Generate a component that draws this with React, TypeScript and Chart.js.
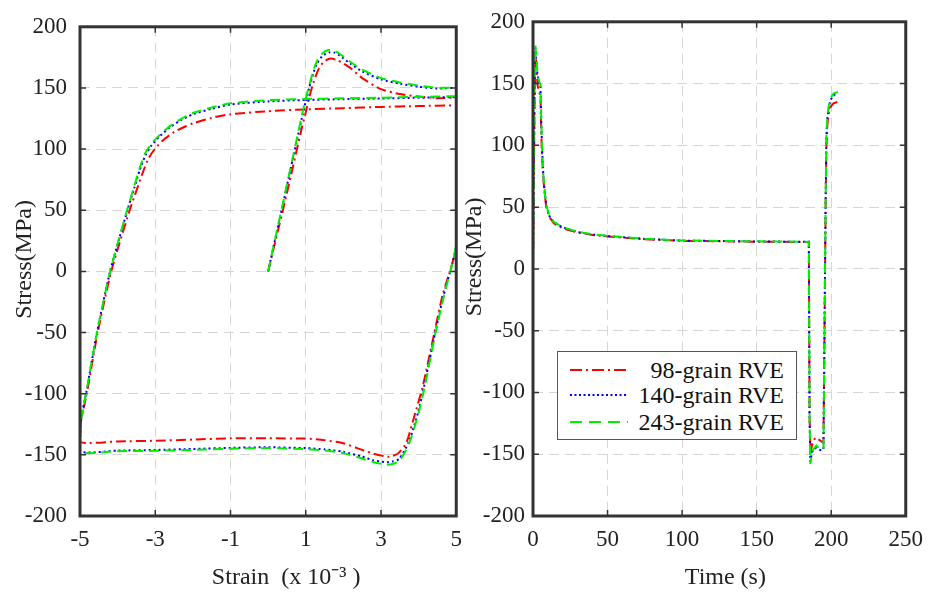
import React, { useEffect, useRef } from "react";
import { Chart, registerables } from "chart.js";

Chart.register(...registerables);

// ---------- data ----------
const seriesNames = ["98-grain RVE", "140-grain RVE", "243-grain RVE"];
const seriesColors = ["#ff0000", "#0000ff", "#00ee00"];

const stressTicks = [-200, -150, -100, -50, 0, 50, 100, 150, 200];
const strainTicks = [-5, -3, -1, 1, 3, 5];
const timeTicks = [0, 50, 100, 150, 200, 250];

// left panel: stress vs strain (x 10^-3)
const strain98 = [0, 0.5, 0.9, 1.0, 1.1, 1.2, 1.35, 1.5, 1.67, 1.85, 2.0, 2.2, 2.5, 3.0, 3.5, 4.0, 4.5, 5.0, 5.0, 4.9, 4.64, 4.42, 4.11, 3.89, 3.67, 3.45, 3.3, 3.18, 2.8, 2.5, 2.0, 1.5, 1.0, 0, -1, -2, -3, -4, -5, -4.97, -4.82, -4.53, -4.17, -3.68, -3.5, -3.33, -3.17, -3.0, -2.8, -2.5, -2.2, -2.0, -1.5, -1.0, 0, 1, 2, 3, 4, 5];
const stress98 = [0, 64, 118, 130, 143, 154, 166, 172, 174, 172.5, 170, 166, 158, 149, 145, 143, 141.5, 140.5, 22, 7, -19, -50, -94, -118, -140.5, -149, -151, -151.6, -149, -146, -140.5, -138, -136.7, -136.5, -136.5, -137.5, -138.5, -139, -139.5, -122, -100, -50, 0, 50, 66, 81, 93, 100.5, 107, 114, 118.5, 121, 125.5, 128.5, 131, 132.5, 133.5, 134.5, 135.2, 135.8];

const strain140 = [0, 0.5, 0.9, 1.0, 1.1, 1.2, 1.3, 1.45, 1.62, 1.75, 1.9, 2.2, 2.5, 3.0, 3.5, 4.0, 4.5, 5.0, 5.0, 4.9, 4.67, 4.44, 4.14, 3.97, 3.74, 3.48, 3.3, 3.16, 2.8, 2.5, 2.0, 1.5, 1.0, 0, -1, -2, -3, -4, -5, -4.97, -4.84, -4.55, -4.2, -3.74, -3.56, -3.41, -3.26, -3.1, -2.9, -2.6, -2.3, -2.0, -1.5, -1.0, 0, 1, 2, 3, 4, 5];
const stress140 = [0, 70, 126, 139, 151, 162, 170, 176.5, 179, 179, 176.5, 169.5, 163.5, 157, 153.5, 151, 149.5, 148.5, 22, 7, -19, -50, -95, -117, -139.5, -153.5, -155.5, -156, -154.5, -151.5, -147.5, -145.5, -144.5, -143.8, -144.3, -145.2, -146, -146.5, -147, -121, -100, -50, 0, 50, 68, 83, 95, 103, 110, 118, 124, 128.5, 133, 136.5, 139, 140.2, 140.8, 141.4, 142, 142.5];

const strain243 = [0, 0.5, 0.9, 1.0, 1.1, 1.2, 1.3, 1.45, 1.6, 1.75, 1.9, 2.2, 2.5, 3.0, 3.5, 4.0, 4.5, 5.0, 5.0, 4.9, 4.68, 4.45, 4.15, 3.98, 3.75, 3.49, 3.3, 3.13, 2.8, 2.5, 2.0, 1.5, 1.0, 0, -1, -2, -3, -4, -5, -4.97, -4.84, -4.55, -4.2, -3.75, -3.57, -3.42, -3.27, -3.1, -2.9, -2.6, -2.3, -2.0, -1.5, -1.0, 0, 1, 2, 3, 4, 5];
const stress243 = [0, 71, 128, 141, 153, 164, 172, 178.5, 181, 180.5, 178, 171, 165, 158, 154.5, 152, 150, 148.6, 22, 7, -19, -50, -96, -118, -140.5, -155, -157.5, -158, -156, -153, -148.6, -146.5, -145.3, -144.5, -145, -146, -146.7, -147, -147.5, -122, -100, -50, 0, 50, 68.5, 84, 96.5, 104.5, 111, 119, 125, 129.5, 134, 137.5, 140, 141, 141.5, 142, 142.7, 143.3];

// right panel: stress vs time (s)
const time98 = [0, 0.5, 1.0, 1.67, 2.2, 3.0, 4.0, 5.0, 5.5, 6.0, 7.0, 8.0, 9.0, 11, 14, 18, 22, 30, 40, 50, 75, 100, 150, 185, 185.5, 186.2, 187, 189.3, 191.5, 193.8, 194.8, 195.3, 195.8, 196.3, 196.8, 197.5, 198.5, 199.5, 201.5, 204.5];
const stressT98 = [0, 64, 130, 174, 166, 149, 143, 140.5, 112, 92, 72, 59, 49.5, 42, 37, 34, 32, 29.5, 27.5, 26.3, 24, 22.7, 22, 21.8, -120, -151, -143, -136.5, -138, -140, -140, -80, -10, 55, 100, 118, 127, 131, 134, 135.3];

const time140 = [0, 0.5, 1.0, 1.6, 2.2, 3.0, 4.0, 5.0, 5.6, 6.2, 7.0, 8.0, 9.0, 11, 14, 18, 22, 30, 40, 50, 75, 100, 150, 185, 185.5, 186, 187, 188, 190, 192.5, 194.8, 195.3, 195.8, 196.3, 196.8, 197.5, 198.5, 199.5, 201.5, 204.5];
const stressT140 = [0, 70, 139, 179, 169.5, 157, 151, 148.5, 117, 94, 74.5, 60.5, 50.5, 42.8, 37.8, 34.8, 32.8, 29.8, 27.8, 26.6, 24.3, 22.9, 22.2, 21.9, -120, -156, -149, -146, -145, -146.5, -146.5, -80, -10, 58, 108, 123, 131, 136.5, 140.5, 142.5];

const time243 = [0, 0.5, 1.0, 1.6, 2.2, 3.0, 4.0, 5.0, 5.6, 6.2, 7.0, 8.0, 9.0, 11, 14, 18, 22, 30, 40, 50, 75, 100, 150, 185, 185.5, 186, 187, 188, 190, 192.5, 194.8, 195.3, 195.8, 196.3, 196.8, 197.5, 198.5, 199.5, 201.5, 204.5];
const stressT243 = [0, 71, 141, 181, 171, 158, 152, 149, 118, 95, 75, 61, 51, 43, 38, 35, 33, 30, 28, 26.8, 24.5, 23, 22.3, 22, -120, -158, -150, -146, -143, -146, -146, -80, -10, 60, 110, 125, 133, 138, 142, 143.3];

// ---------- styles ----------
const FONT = "'Liberation Serif', 'Times New Roman', serif";
const dashes = [[10, 4, 2, 4], [2, 3], [10, 6]];
const orders = [2, 1, 0];

const zip = (xs: number[], ys: number[]) => xs.map((x, i) => ({ x, y: ys[i] }));

const framePlugin = {
  id: "frame",
  afterDatasetsDraw(chart: any) {
    const { ctx, chartArea, scales } = chart;
    const { left, right, top, bottom } = chartArea;
    ctx.save();
    ctx.strokeStyle = "#333";
    ctx.lineWidth = 1.5;
    ctx.setLineDash([]);
    const tl = 6;
    ctx.beginPath();
    scales.x.ticks.forEach((t: any) => {
      const px = scales.x.getPixelForValue(t.value);
      ctx.moveTo(px, bottom);
      ctx.lineTo(px, bottom - tl);
      ctx.moveTo(px, top);
      ctx.lineTo(px, top + tl);
    });
    scales.y.ticks.forEach((t: any) => {
      const py = scales.y.getPixelForValue(t.value);
      ctx.moveTo(left, py);
      ctx.lineTo(left + tl, py);
      ctx.moveTo(right, py);
      ctx.lineTo(right - tl, py);
    });
    ctx.stroke();
    ctx.lineWidth = 3;
    ctx.strokeRect(left, top, right - left, bottom - top);
    ctx.restore();
  },
};

function makeConfig(
  xs: number[][],
  ys: number[][],
  xMin: number,
  xMax: number,
  xTicks: number[],
  xTitle: string,
  yTitle: string,
  yAxisWidth: number,
  yPad: number,
  yTitlePad: number,
  rightPad: number,
  tension: number
): any {
  return {
    type: "line",
    data: {
      datasets: seriesNames.map((name, i) => ({
        label: name,
        data: zip(xs[i], ys[i]),
        borderColor: seriesColors[i],
        backgroundColor: seriesColors[i],
        borderWidth: 2,
        borderDash: dashes[i],
        pointRadius: 0,
        fill: false,
        tension,
        order: orders[i],
      })),
    },
    options: {
      responsive: false,
      animation: false,
      events: [],
      layout: { padding: { left: 0, top: 18, right: rightPad, bottom: 0 } },
      plugins: { legend: { display: false }, tooltip: { enabled: false } },
      scales: {
        x: {
          type: "linear",
          min: xMin,
          max: xMax,
          afterBuildTicks: (s: any) => {
            s.ticks = xTicks.map((v) => ({ value: v }));
          },
          afterFit: (s: any) => {
            s.height = 80;
          },
          grid: { color: "#d6d6d6", lineWidth: 1, drawTicks: false },
          border: { display: false, dash: [10, 6] },
          ticks: { font: { family: FONT, size: 23 }, color: "#222", padding: 10, maxRotation: 0, autoSkip: false },
          title: {
            display: true,
            text: xTitle,
            font: { family: FONT, size: 24 },
            color: "#222",
            padding: { top: 0, bottom: 4 },
          },
        },
        y: {
          type: "linear",
          min: -200,
          max: 200,
          afterBuildTicks: (s: any) => {
            s.ticks = stressTicks.map((v) => ({ value: v }));
          },
          afterFit: (s: any) => {
            s.width = yAxisWidth;
          },
          grid: { color: "#d6d6d6", lineWidth: 1, drawTicks: false },
          border: { display: false, dash: [10, 6] },
          ticks: { font: { family: FONT, size: 23 }, color: "#222", padding: yPad },
          title: {
            display: true,
            text: yTitle,
            font: { family: FONT, size: 24 },
            color: "#222",
            padding: { top: yTitlePad, bottom: 0 },
          },
        },
      },
    },
    plugins: [framePlugin],
  };
}

const legendRows = [
  { top: 5, dash: "12 4 2 4" },
  { top: 30, dash: "2 2.5" },
  { top: 56.5, dash: "12 7" },
];

export default function App() {
  const leftRef = useRef<HTMLCanvasElement>(null);
  const rightRef = useRef<HTMLCanvasElement>(null);

  useEffect(() => {
    const left = new Chart(
      leftRef.current as HTMLCanvasElement,
      makeConfig(
        [strain98, strain140, strain243],
        [stress98, stress140, stress243],
        -5,
        5,
        strainTicks,
        "      Strain  (x 10\u207B\u00B3 )",
        "    Stress(MPa)",
        80,
        13,
        10,
        5,
        0.2
      )
    );
    const right = new Chart(
      rightRef.current as HTMLCanvasElement,
      makeConfig(
        [time98, time140, time243],
        [stressT98, stressT140, stressT243],
        0,
        250,
        timeTicks,
        "  Time (s)",
        "    Stress(MPa)",
        73,
        8,
        0.6,
        25,
        0
      )
    );
    return () => {
      left.destroy();
      right.destroy();
    };
  }, []);

  return (
    <div style={{ position: "absolute", left: 0, top: 0, width: 933, height: 596, background: "#fff" }}>
      <canvas ref={leftRef} width={472} height={596} style={{ position: "absolute", left: 0, top: 0, width: 472, height: 596 }} />
      <canvas ref={rightRef} width={473} height={596} style={{ position: "absolute", left: 460, top: 0, width: 473, height: 596 }} />
      <div
        style={{
          position: "absolute",
          left: 557,
          top: 351,
          width: 240,
          height: 89,
          boxSizing: "border-box",
          border: "1.5px solid #555",
          background: "#fff",
          fontFamily: FONT,
          fontSize: 24,
          color: "#111",
        }}
      >
        {seriesNames.map((name, i) => (
          <div key={name} style={{ position: "absolute", left: 0, top: legendRows[i].top, width: 238, height: 26, lineHeight: "26px" }}>
            <svg width={60} height={26} style={{ position: "absolute", left: 12, top: 0 }}>
              <line x1={0} y1={13} x2={58} y2={13} stroke={seriesColors[i]} strokeWidth={2} strokeDasharray={legendRows[i].dash} />
            </svg>
            <span style={{ position: "absolute", right: 12, top: 0, whiteSpace: "nowrap" }}>{name}</span>
          </div>
        ))}
      </div>
    </div>
  );
}
